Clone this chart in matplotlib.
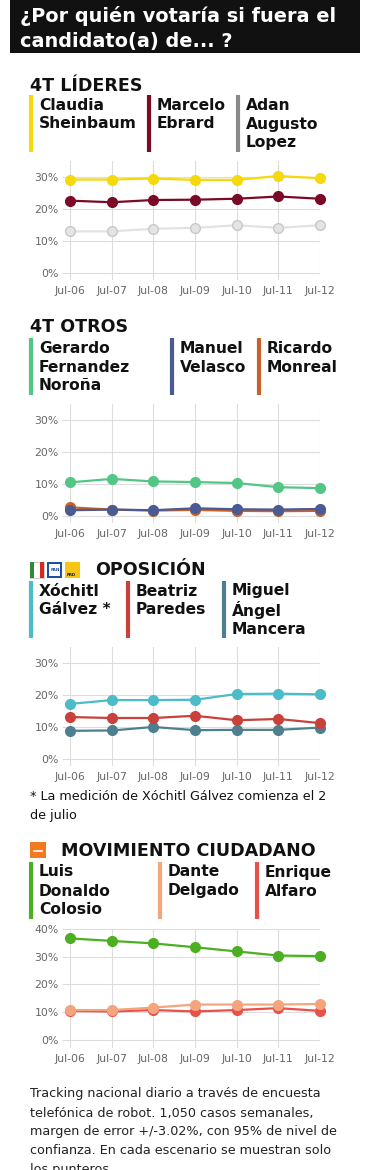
import matplotlib
matplotlib.use("Agg")
import matplotlib.pyplot as plt
from matplotlib.lines import Line2D
from matplotlib.patches import Rectangle

W, H = 370, 1170

dates = ["Jul-06", "Jul-07", "Jul-08", "Jul-09", "Jul-10", "Jul-11", "Jul-12"]

# 4T lideres
sheinbaum = [29.3, 29.3, 29.6, 29.2, 29.2, 30.4, 29.7]
ebrard = [22.7, 22.2, 22.9, 23.0, 23.3, 24.0, 23.3]
adan = [13.1, 13.1, 13.9, 14.2, 15.0, 14.2, 15.0]

# 4T otros
norona = [10.5, 11.6, 10.8, 10.6, 10.3, 9.0, 8.7]
velasco = [1.8, 2.0, 1.8, 2.4, 2.1, 2.0, 2.2]
monreal = [2.7, 2.0, 1.7, 1.9, 1.6, 1.5, 1.6]

# oposicion
xochitl = [17.3, 18.5, 18.5, 18.6, 20.4, 20.5, 20.3]
paredes = [13.2, 12.9, 12.9, 13.6, 12.2, 12.6, 11.3]
mancera = [8.9, 9.0, 10.1, 9.1, 9.2, 9.2, 9.9]

# movimiento ciudadano
colosio = [36.6, 35.7, 34.8, 33.4, 31.9, 30.4, 30.2]
delgado = [10.7, 10.7, 11.6, 12.7, 12.7, 12.7, 12.9]
alfaro = [10.4, 10.2, 10.7, 10.2, 10.7, 11.4, 10.4]

fig = plt.figure(figsize=(W / 100, H / 100), dpi=100)
fig.patch.set_facecolor("white")


def fx(x):
    return x / W


def fy(y):
    return 1 - y / H


def txt(x, y, s, **kw):
    fig.text(fx(x), fy(y), s, va="center", ha="left", **kw)


def vbar(x, y0, y1, color):
    fig.add_artist(Line2D([fx(x), fx(x)], [fy(y0), fy(y1)], color=color,
                          lw=3, solid_capstyle="butt"))


def legend_block(entries, y_top):
    # entries: (x, color, [lines])
    for x, color, lines in entries:
        vbar(x, y_top, y_top + 57, color)
        for i, line in enumerate(lines):
            txt(x + 8, y_top + 10 + i * 19, line, fontsize=11.2,
                fontweight="bold", color="#111111")


def make_chart(y_top, ymax, ymin, series, ticks):
    ax = fig.add_axes([fx(70), fy(y_top + 118.7), fx(320) - fx(70), 118.7 / H])
    for vals, color, mfc, mec in series:
        ax.plot(range(len(dates)), vals, color=color, lw=1.6, marker="o",
                markersize=7, markerfacecolor=mfc, markeredgecolor=mec,
                markeredgewidth=1.0, clip_on=False, zorder=3)
    ax.set_xlim(0, len(dates) - 1)
    ax.set_ylim(ymin, ymax)
    ax.set_xticks(range(len(dates)))
    ax.set_xticklabels(dates)
    ax.set_yticks(ticks)
    ax.set_yticklabels(["{}%".format(t) for t in ticks])
    ax.grid(True, color="#dddddd", lw=0.8)
    ax.set_axisbelow(True)
    for s in ax.spines.values():
        s.set_visible(False)
    ax.tick_params(axis="x", length=0, pad=4.5, labelsize=7.8, labelcolor="#666666")
    ax.tick_params(axis="y", length=6, width=0.8, color="#dddddd", pad=2,
                   labelsize=7.8, labelcolor="#666666")
    ax.set_facecolor("none")
    return ax


# title block
fig.add_artist(Rectangle((fx(10), fy(53)), fx(360) - fx(10), 53 / H,
                         facecolor="#111111", edgecolor="none"))
txt(20, 16, "¿Por quién votaría si fuera el", fontsize=13.9, fontweight="bold",
    color="white")
txt(20, 41, "candidato(a) de... ?", fontsize=13.9, fontweight="bold", color="white")

# section 1
txt(30, 86, "4T LÍDERES", fontsize=12.6, fontweight="bold", color="#111111")
legend_block([
    (31, "#f5d90a", ["Claudia", "Sheinbaum"]),
    (149, "#7b0a26", ["Marcelo", "Ebrard"]),
    (238, "#8a8a8a", ["Adan", "Augusto", "Lopez"]),
], 95)
make_chart(161.3, 35, -2.1, [
    (sheinbaum, "#f5d90a", "#f5d90a", "#f5d90a"),
    (ebrard, "#7b0a26", "#7b0a26", "#7b0a26"),
    (adan, "#e2e2e2", "#e4e4e4", "#c8c8c8"),
], [0, 10, 20, 30])

# section 2
txt(30, 327, "4T OTROS", fontsize=12.6, fontweight="bold", color="#111111")
legend_block([
    (31, "#52c785", ["Gerardo", "Fernandez", "Noroña"]),
    (172, "#4a5a93", ["Manuel", "Velasco"]),
    (259, "#c8622a", ["Ricardo", "Monreal"]),
], 338)
make_chart(404, 35, -2.1, [
    (monreal, "#c8622a", "#c8622a", "#c8622a"),
    (norona, "#52c785", "#52c785", "#52c785"),
    (velasco, "#4a5a93", "#4a5a93", "#4a5a93"),
], [0, 10, 20, 30])

# section 3: party logos
fig.add_artist(Rectangle((fx(30), fy(578)), 14 / W, 16 / H, facecolor="#ffffff",
                         edgecolor="#bbbbbb", lw=0.5))
fig.add_artist(Rectangle((fx(30), fy(578)), 4 / W, 16 / H, facecolor="#2e8b3a",
                         edgecolor="none"))
fig.add_artist(Rectangle((fx(40), fy(578)), 4 / W, 16 / H, facecolor="#d52b1e",
                         edgecolor="none"))
fig.add_artist(Rectangle((fx(47), fy(578)), 15 / W, 16 / H, facecolor="#1f4fa3",
                         edgecolor="none"))
fig.add_artist(Rectangle((fx(49), fy(576)), 11 / W, 12 / H, facecolor="#ffffff",
                         edgecolor="none"))
fig.add_artist(Rectangle((fx(65), fy(578)), 15 / W, 16 / H, facecolor="#f7c514",
                         edgecolor="none"))
txt(50.5, 570, "PAN", fontsize=3, fontweight="bold", color="#1f4fa3")
txt(67, 575, "PRD", fontsize=2.8, fontweight="bold", color="#111111")
txt(95, 570, "OPOSICIÓN", fontsize=12.6, fontweight="bold", color="#111111")
legend_block([
    (31, "#4bbcc8", ["Xóchitl", "Gálvez *"]),
    (128, "#c8413a", ["Beatriz", "Paredes"]),
    (224, "#4e7f8f", ["Miguel", "Ángel", "Mancera"]),
], 581)
make_chart(647.3, 35, -2.1, [
    (mancera, "#4e7f8f", "#4e7f8f", "#4e7f8f"),
    (paredes, "#c8413a", "#c8413a", "#c8413a"),
    (xochitl, "#4bbcc8", "#4bbcc8", "#4bbcc8"),
], [0, 10, 20, 30])
txt(30, 797, "* La medición de Xóchitl Gálvez comienza el 2", fontsize=9.2,
    color="#111111")
txt(30, 816, "de julio", fontsize=9.2, color="#111111")

# section 4
fig.add_artist(Rectangle((fx(30), fy(858)), 16 / W, 16 / H, facecolor="#f47a20",
                         edgecolor="none"))
fig.add_artist(Line2D([fx(34), fx(42)], [fy(851), fy(851)], color="white", lw=1.2))
txt(61, 851, "MOVIMIENTO CIUDADANO", fontsize=12.6, fontweight="bold",
    color="#111111")
legend_block([
    (31, "#4caf22", ["Luis", "Donaldo", "Colosio"]),
    (160, "#f5a57e", ["Dante", "Delgado"]),
    (257, "#e8504a", ["Enrique", "Alfaro"]),
], 862)
make_chart(929, 40, -2.9, [
    (alfaro, "#e8504a", "#e8504a", "#e8504a"),
    (delgado, "#f5a57e", "#f5a57e", "#f5a57e"),
    (colosio, "#4caf22", "#4caf22", "#4caf22"),
], [0, 10, 20, 30, 40])

footer = [
    "Tracking nacional diario a través de encuesta",
    "telefónica de robot. 1,050 casos semanales,",
    "margen de error +/-3.02%, con 95% de nivel de",
    "confianza. En cada escenario se muestran solo",
    "los punteros.",
]
for i, line in enumerate(footer):
    txt(30, 1094 + i * 19, line, fontsize=9.2, color="#222222")

fig.savefig("out.png", dpi=100)
